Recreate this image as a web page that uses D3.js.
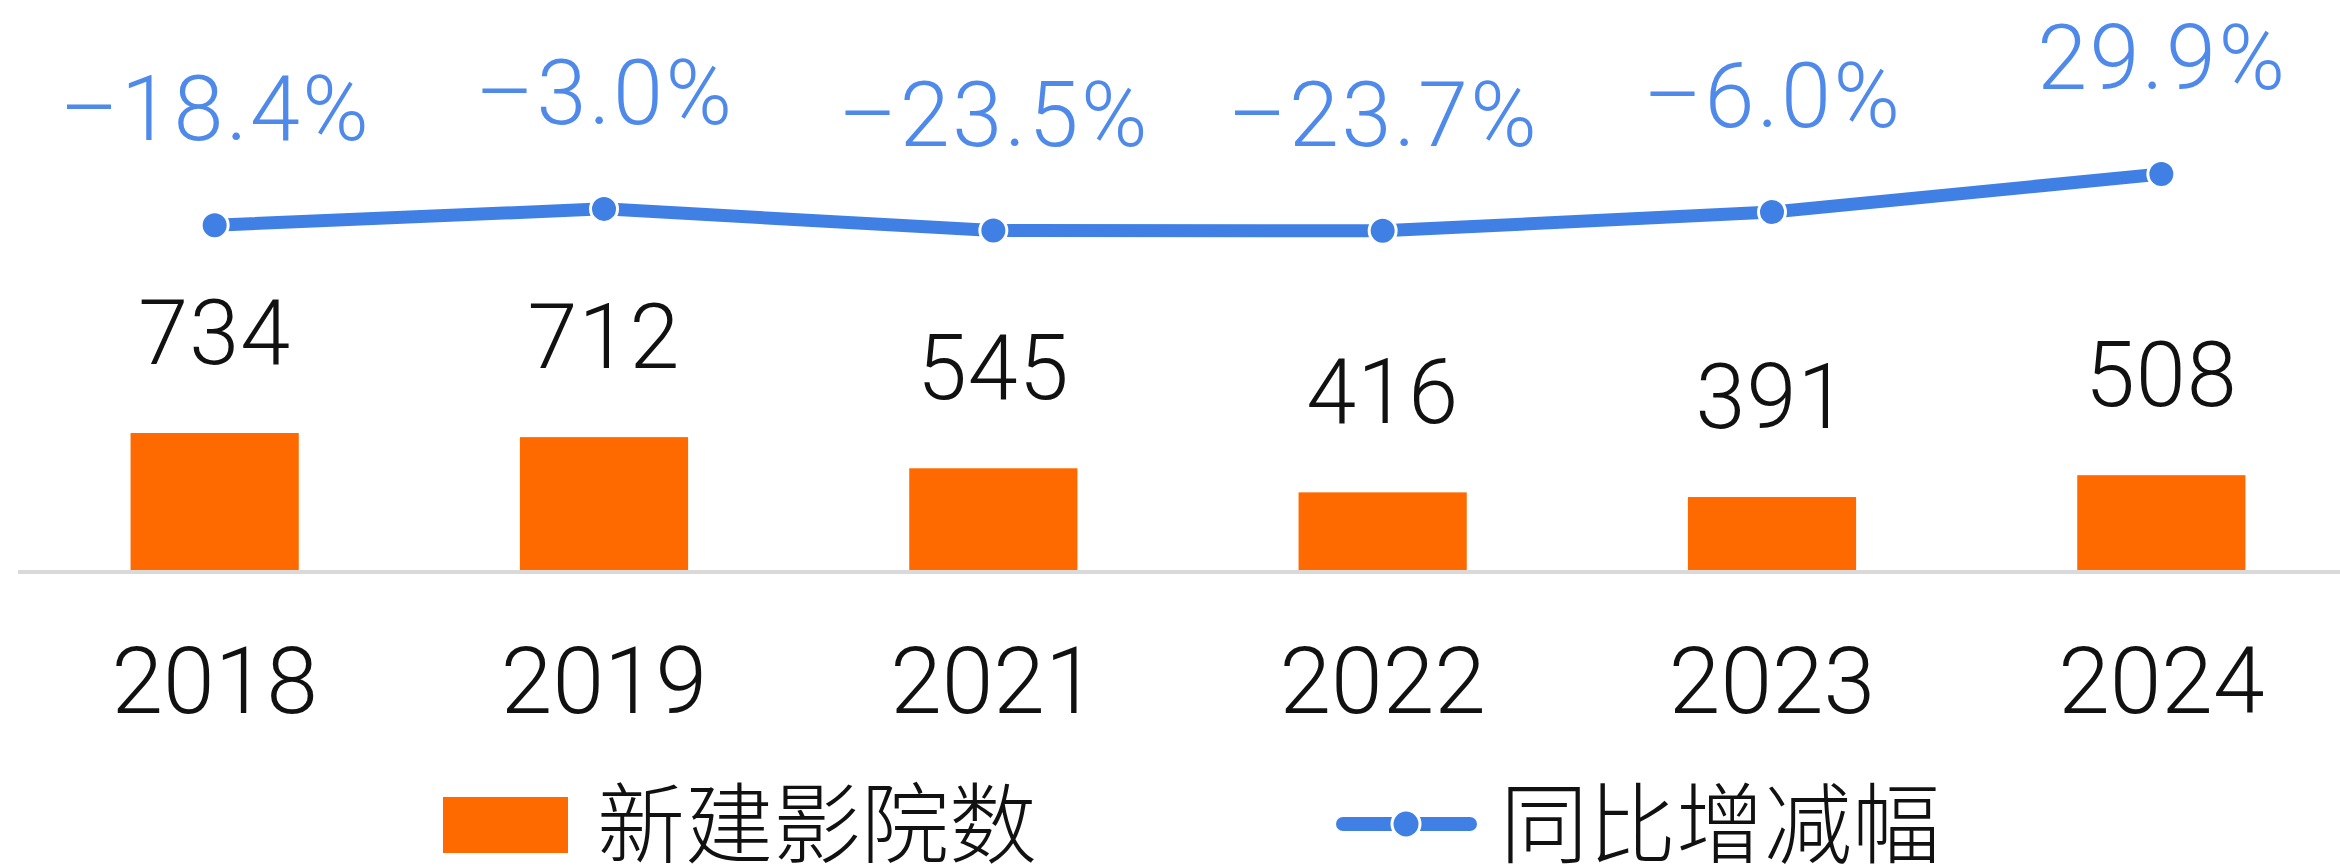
<!DOCTYPE html>
<html>
<head>
<meta charset="utf-8">
<script src="https://cdn.jsdelivr.net/npm/d3@7"></script>
<style>
  html, body { margin: 0; padding: 0; background: #fff; }
  svg { display: block; }
  text { font-family: Roboto, "Liberation Sans", Arial, sans-serif; font-weight: 300; }
  .cjk { font-family: "Noto Sans CJK SC", sans-serif; font-weight: 300; }
</style>
</head>
<body>
<div id="chart"></div>
<script>
// chart data
const years = ["2018", "2019", "2021", "2022", "2023", "2024"];
const newCinemas = [734, 712, 545, 416, 391, 508];
const yoyChange = [-18.4, -3.0, -23.5, -23.7, -6.0, 29.9];
const legendLabels = ["新建影院数", "同比增减幅"];

const width = 2340, height = 868;
const orange = "#ff6a00";
const blue = "#4080e4";
const blueText = "#4f8aea";

const svg = d3.select("#chart").append("svg")
  .attr("width", width)
  .attr("height", height);

const baseY = 570;

const x = d3.scaleBand()
  .domain(years)
  .range([20, 2356])
  .paddingInner(0.568)
  .paddingOuter(0.284);

// bars use their own scale, line uses another one above
const yBar = d3.scaleLinear().domain([0, 800]).range([baseY, baseY - 149.3]);
const yLine = d3.scaleLinear().domain([-30, 35]).range([237.5, 168.6]);

// baseline
svg.append("line")
  .attr("x1", 18).attr("x2", width)
  .attr("y1", baseY + 2).attr("y2", baseY + 2)
  .attr("stroke", "#d9d9d9")
  .attr("stroke-width", 4);

// bars
svg.selectAll("rect.bar")
  .data(years)
  .join("rect")
  .attr("class", "bar")
  .attr("x", d => x(d))
  .attr("width", x.bandwidth())
  .attr("y", (d, i) => yBar(newCinemas[i]))
  .attr("height", (d, i) => baseY - yBar(newCinemas[i]))
  .attr("fill", orange);

// bar value labels
svg.selectAll("text.val")
  .data(years)
  .join("text")
  .attr("class", "val")
  .attr("x", d => x(d) + x.bandwidth() / 2)
  .attr("y", (d, i) => yBar(newCinemas[i]) - 69)
  .attr("text-anchor", "middle")
  .attr("font-size", 90)
  .attr("letter-spacing", 1)
  .attr("fill", "#111")
  .text((d, i) => newCinemas[i]);

// year labels
svg.selectAll("text.year")
  .data(years)
  .join("text")
  .attr("class", "year")
  .attr("x", d => x(d) + x.bandwidth() / 2)
  .attr("y", 713)
  .attr("text-anchor", "middle")
  .attr("font-size", 93)
  .attr("fill", "#111")
  .text(d => d);

// growth line
const pts = years.map((d, i) => [x(d) + x.bandwidth() / 2, yLine(yoyChange[i])]);

svg.append("path")
  .attr("d", d3.line()(pts))
  .attr("fill", "none")
  .attr("stroke", blue)
  .attr("stroke-width", 13);

svg.selectAll("circle.pt")
  .data(pts)
  .join("circle")
  .attr("class", "pt")
  .attr("cx", d => d[0])
  .attr("cy", d => d[1])
  .attr("r", 13.5)
  .attr("fill", blue)
  .attr("stroke", "#fff")
  .attr("stroke-width", 3);

const fmt = v => (v < 0 ? "–" : "") + Math.abs(v).toFixed(1) + "%";

svg.selectAll("text.pct")
  .data(pts)
  .join("text")
  .attr("class", "pct")
  .attr("x", d => d[0] + 1)
  .attr("y", d => d[1] - 85)
  .attr("text-anchor", "middle")
  .attr("font-size", 90)
  .attr("letter-spacing", 2.5)
  .attr("fill", blueText)
  .text((d, i) => fmt(yoyChange[i]));

// legend
const lg = svg.append("g");
lg.append("rect")
  .attr("x", 443).attr("y", 797)
  .attr("width", 125).attr("height", 56)
  .attr("fill", orange);
lg.append("text")
  .attr("class", "cjk")
  .attr("x", 597).attr("y", 856)
  .attr("font-size", 88)
  .attr("fill", "#111")
  .text(legendLabels[0]);

lg.append("line")
  .attr("x1", 1343).attr("x2", 1470)
  .attr("y1", 824).attr("y2", 824)
  .attr("stroke", blue)
  .attr("stroke-width", 14)
  .attr("stroke-linecap", "round");
lg.append("circle")
  .attr("cx", 1406).attr("cy", 824)
  .attr("r", 14)
  .attr("fill", blue)
  .attr("stroke", "#fff")
  .attr("stroke-width", 3);
lg.append("text")
  .attr("class", "cjk")
  .attr("x", 1500).attr("y", 856)
  .attr("font-size", 88)
  .attr("fill", "#111")
  .text(legendLabels[1]);
</script>
</body>
</html>
